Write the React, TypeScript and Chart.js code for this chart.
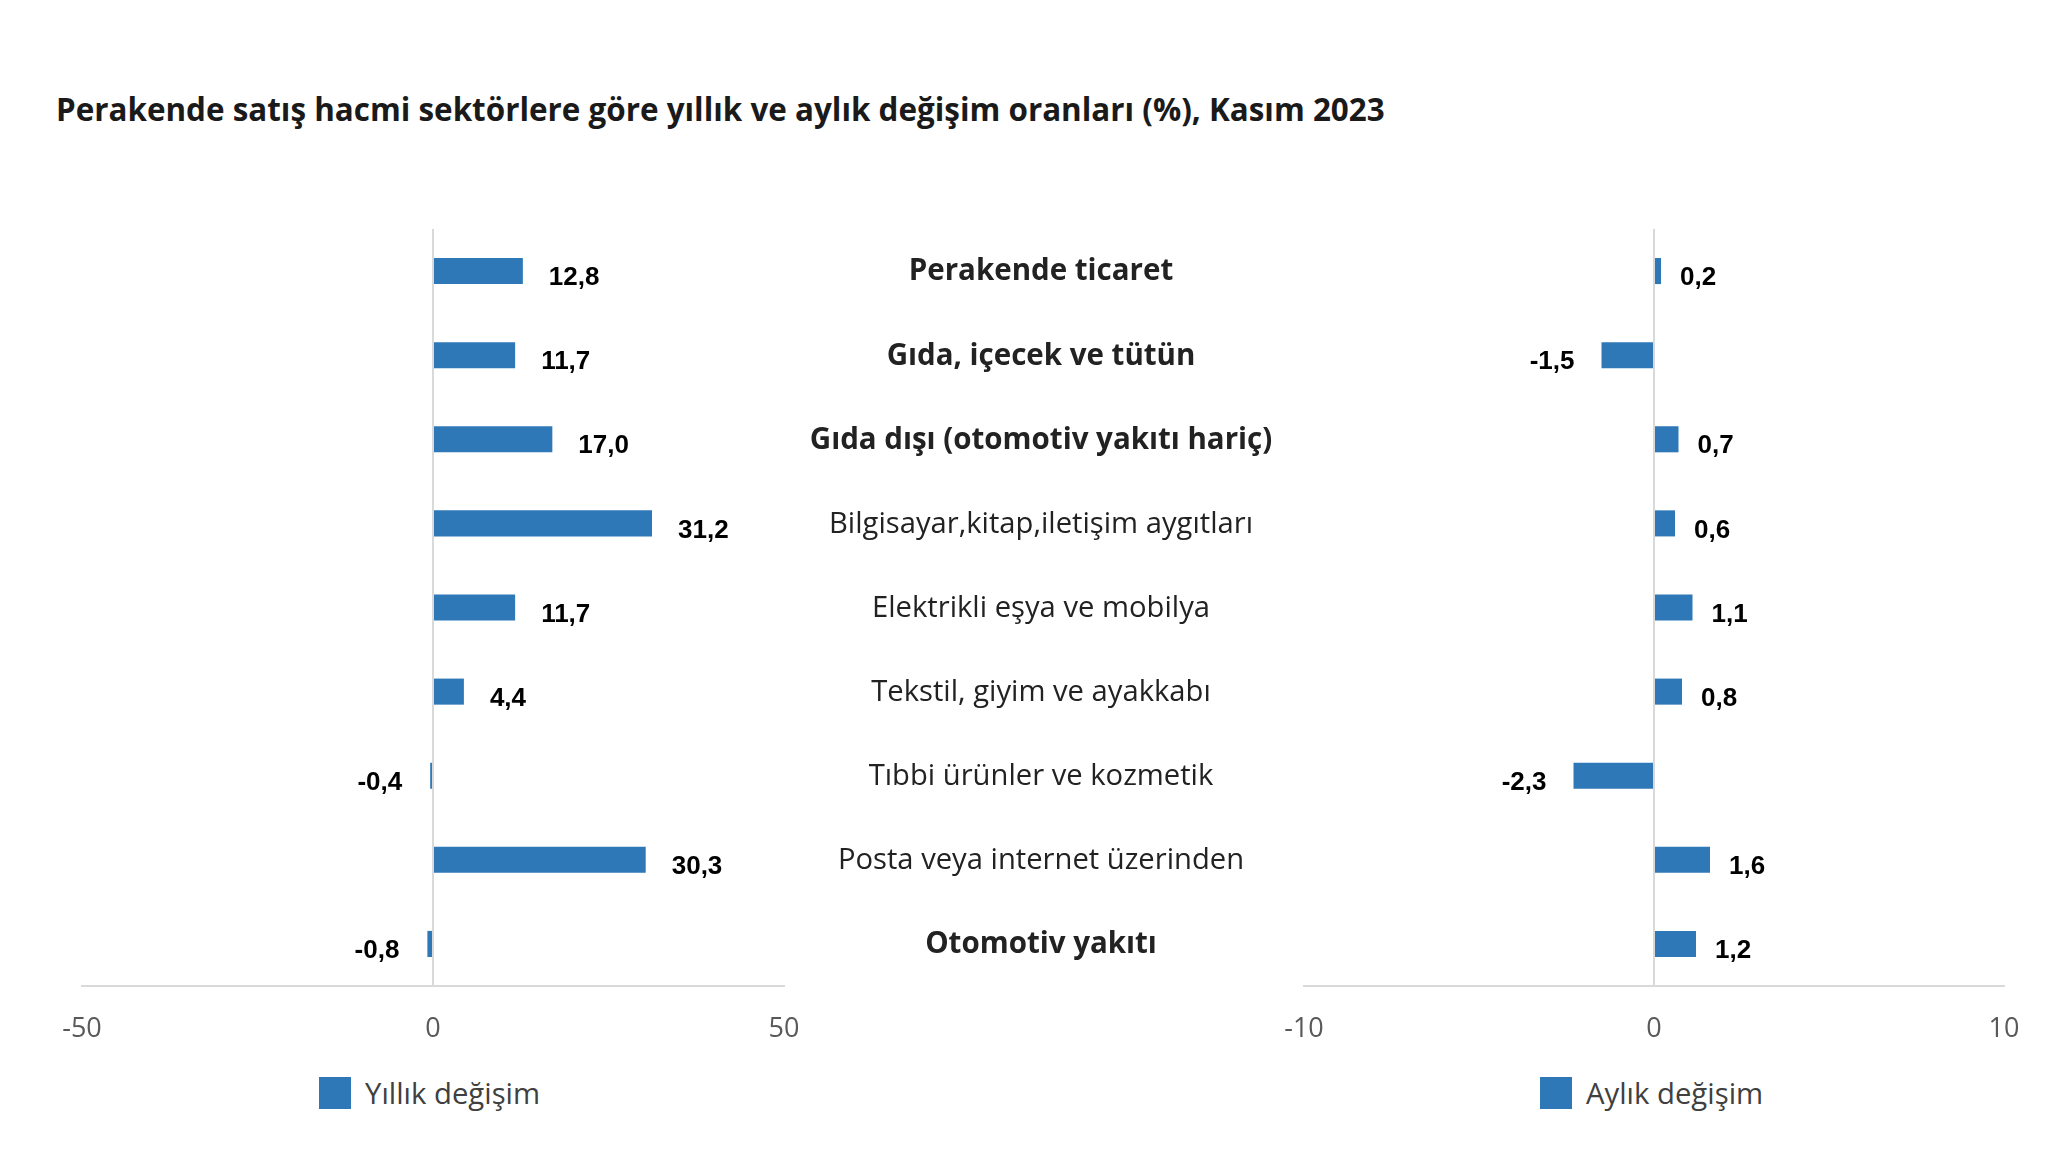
import React, { useEffect, useRef } from 'react';
import { Chart, registerables } from 'chart.js';

Chart.register(...registerables);

const titleText = 'Perakende satış hacmi sektörlere göre yıllık ve aylık değişim oranları (%), Kasım 2023';
const categories = [
  'Perakende ticaret',
  'Gıda, içecek ve tütün',
  'Gıda dışı (otomotiv yakıtı hariç)',
  'Bilgisayar,kitap,iletişim aygıtları',
  'Elektrikli eşya ve mobilya',
  'Tekstil, giyim ve ayakkabı',
  'Tıbbi ürünler ve kozmetik',
  'Posta veya internet üzerinden',
  'Otomotiv yakıtı',
];
const boldCategories = [true, true, true, false, false, false, false, false, true];
const yearlyValues = [12.8, 11.7, 17.0, 31.2, 11.7, 4.4, -0.4, 30.3, -0.8];
const monthlyValues = [0.2, -1.5, 0.7, 0.6, 1.1, 0.8, -2.3, 1.6, 1.2];
const yearlyTicks = [-50, 0, 50];
const monthlyTicks = [-10, 0, 10];
const yearlyLabel = 'Yıllık değişim';
const monthlyLabel = 'Aylık değişim';

const BAR_COLOR = '#2f78b7';
const GRID_COLOR = '#d9d9d9';
const FONT = '"Open Sans", "Noto Sans", sans-serif';
const LABEL_FONT = '"Liberation Sans", Arial, sans-serif';

const fmt = (v: number) => v.toFixed(1).replace('.', ',');

const valueLabelPlugin = {
  id: 'valueLabels',
  afterDatasetsDraw(chart: any, _args: any, opts: any) {
    const ctx = chart.ctx;
    const meta = chart.getDatasetMeta(0);
    const data = chart.data.datasets[0].data as number[];
    const posGap = opts && opts.posGap != null ? opts.posGap : 26;
    const negGap = opts && opts.negGap != null ? opts.negGap : 26;
    ctx.save();
    ctx.font = `bold 26px ${LABEL_FONT}`;
    ctx.fillStyle = '#000000';
    ctx.textBaseline = 'middle';
    meta.data.forEach((bar: any, i: number) => {
      const v = data[i];
      const p = bar.getProps(['x', 'y', 'base'], true);
      if (v >= 0) {
        ctx.textAlign = 'left';
        ctx.fillText(fmt(v), p.x + posGap, p.y + 7);
      } else {
        ctx.textAlign = 'right';
        ctx.fillText(fmt(v), p.x - negGap, p.y + 7);
      }
    });
    ctx.restore();
  },
};

const categoryLabelPlugin = {
  id: 'categoryLabels',
  afterDraw(chart: any) {
    const ctx = chart.ctx;
    const yScale = chart.scales.y;
    ctx.save();
    ctx.fillStyle = '#222222';
    ctx.textAlign = 'center';
    ctx.textBaseline = 'middle';
    categories.forEach((c, i) => {
      ctx.font = boldCategories[i] ? `bold 29.5px ${FONT}` : `29.2px ${FONT}`;
      ctx.fillText(c, 1041, yScale.getPixelForValue(i) + 1);
    });
    ctx.restore();
  },
};

function makeConfig(
  values: number[],
  label: string,
  ticks: number[],
  padding: any,
  gaps: { posGap: number; negGap: number },
  extraPlugins: any[]
) {
  return {
    type: 'bar' as const,
    data: {
      labels: categories,
      datasets: [
        {
          label,
          data: values,
          backgroundColor: BAR_COLOR,
          borderWidth: 0,
          barPercentage: 0.31,
          categoryPercentage: 1,
        },
      ],
    },
    options: {
      indexAxis: 'y' as const,
      animation: false as const,
      responsive: false,
      maintainAspectRatio: false,
      layout: { padding },
      plugins: {
        legend: { display: false },
        tooltip: { enabled: false },
        title: { display: false },
        valueLabels: gaps,
      },
      scales: {
        x: {
          min: ticks[0],
          max: ticks[ticks.length - 1],
          afterBuildTicks: (s: any) => {
            s.ticks = ticks.map((v) => ({ value: v }));
          },
          grid: {
            drawTicks: false,
            lineWidth: 2,
            color: (ctx: any) => (ctx.tick && ctx.tick.value === 0 ? GRID_COLOR : 'rgba(0,0,0,0)'),
          },
          border: { display: true, color: GRID_COLOR, width: 2 },
          ticks: {
            padding: 27,
            color: '#595959',
            font: { family: FONT, size: 27 },
          },
          afterFit: (s: any) => {
            s.height = 64;
          },
        },
        y: {
          display: false,
        },
      },
    },
    plugins: extraPlugins,
  };
}

export default function App() {
  const leftRef = useRef<HTMLCanvasElement | null>(null);
  const rightRef = useRef<HTMLCanvasElement | null>(null);

  useEffect(() => {
    const left = new Chart(
      leftRef.current as HTMLCanvasElement,
      makeConfig(
        yearlyValues,
        yearlyLabel,
        yearlyTicks,
        { left: 82, right: 516, top: 229, bottom: 0 },
        { posGap: 26, negGap: 28 },
        [valueLabelPlugin, categoryLabelPlugin]
      ) as any
    );
    const right = new Chart(
      rightRef.current as HTMLCanvasElement,
      makeConfig(
        monthlyValues,
        monthlyLabel,
        monthlyTicks,
        { left: 54, right: 51, top: 229, bottom: 0 },
        { posGap: 19, negGap: 27 },
        [valueLabelPlugin]
      ) as any
    );
    return () => {
      left.destroy();
      right.destroy();
    };
  }, []);

  const legendItem = (text: string, left: number) => (
    <div
      style={{
        position: 'absolute',
        left,
        top: 1077,
        height: 32,
        display: 'flex',
        alignItems: 'center',
        fontFamily: FONT,
        fontSize: 29.3,
        color: '#404040',
        whiteSpace: 'nowrap',
      }}
    >
      <span style={{ display: 'inline-block', width: 32, height: 32, background: BAR_COLOR, marginRight: 14 }} />
      <span>{text}</span>
    </div>
  );

  return (
    <div style={{ position: 'fixed', left: 0, top: 0, width: 2055, height: 1165, background: '#ffffff', overflow: 'hidden' }}>
      <div
        style={{
          position: 'absolute',
          left: 56,
          top: 89,
          lineHeight: '40px',
          fontFamily: FONT,
          fontWeight: 700,
          fontSize: 31.4,
          color: '#1a1a1a',
          whiteSpace: 'nowrap',
        }}
      >
        {titleText}
      </div>
      <canvas ref={leftRef} width={1300} height={1050} style={{ position: 'absolute', left: 0, top: 0, width: 1300, height: 1050 }} />
      <canvas ref={rightRef} width={805} height={1050} style={{ position: 'absolute', left: 1250, top: 0, width: 805, height: 1050 }} />
      {legendItem(yearlyLabel, 319)}
      {legendItem(monthlyLabel, 1540)}
    </div>
  );
}
